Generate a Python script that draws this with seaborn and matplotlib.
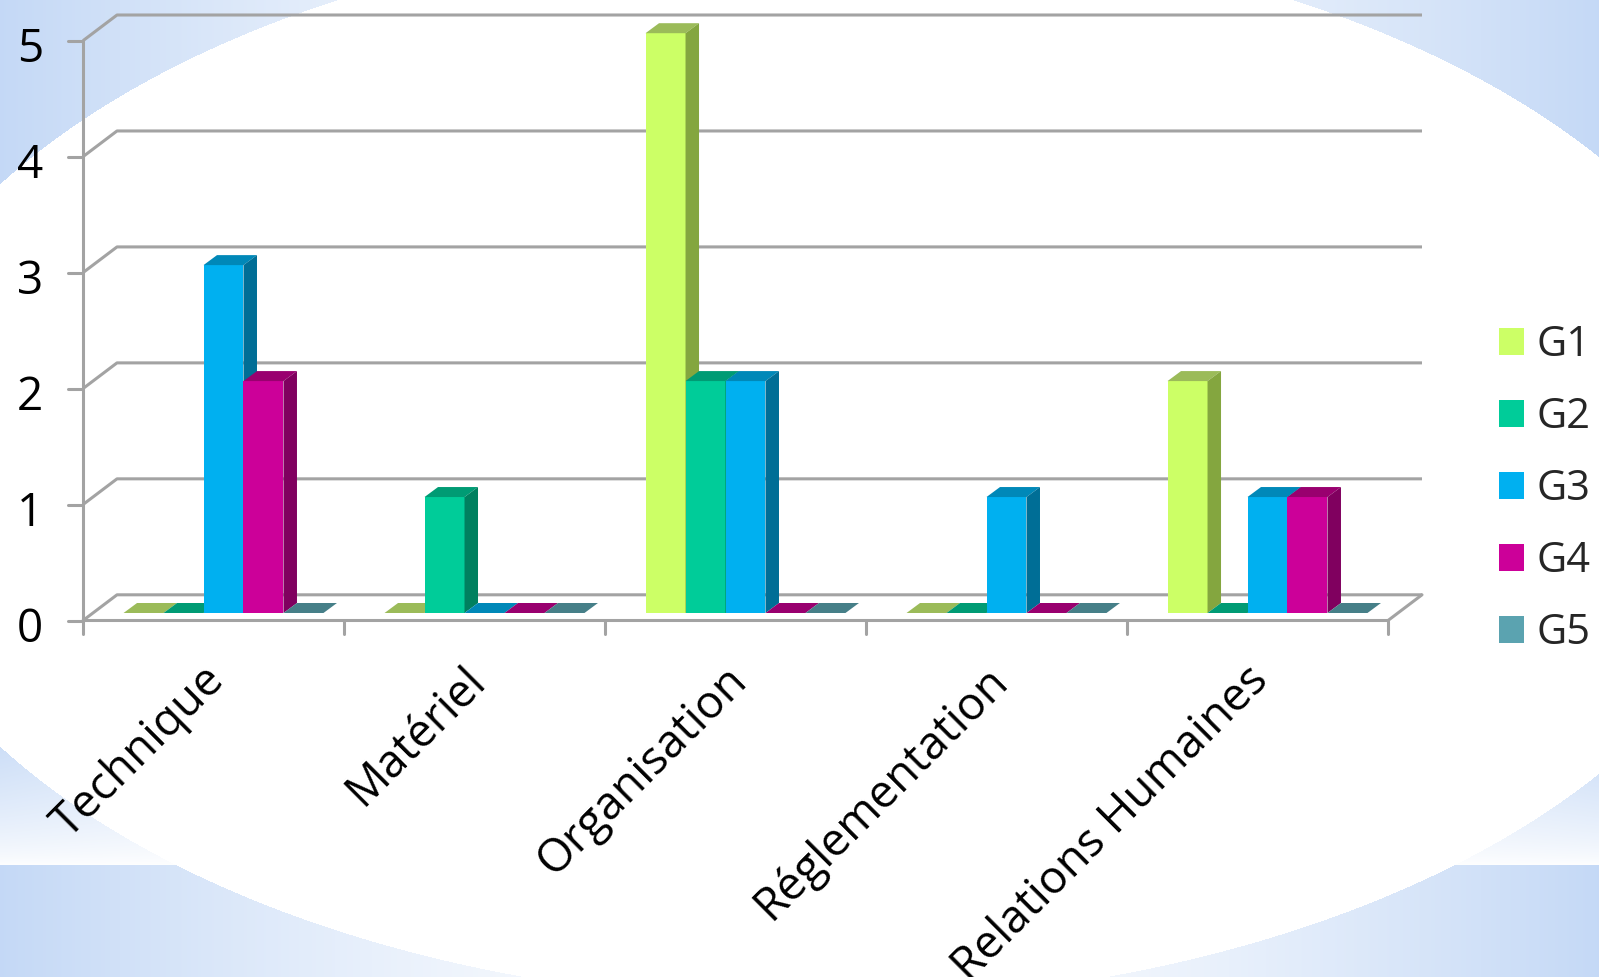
import numpy as np
import pandas as pd
import matplotlib
matplotlib.use("Agg")
import matplotlib.pyplot as plt
import matplotlib.transforms as mtransforms
from matplotlib.patches import Polygon, Patch
import seaborn as sns

# ---------------- data ----------------
categories = ["Technique", "Matériel", "Organisation", "Réglementation", "Relations Humaines"]
groups = ["G1", "G2", "G3", "G4", "G5"]
g1 = [0, 0, 5, 0, 2]
g2 = [0, 1, 2, 0, 0]
g3 = [3, 0, 2, 1, 1]
g4 = [2, 0, 0, 0, 1]
g5 = [0, 0, 0, 0, 0]
yticks = [0, 1, 2, 3, 4, 5]

front_colors = ["#CCFF66", "#00CC99", "#00B0F0", "#CC0099", "#5BA3B0"]
top_colors = ["#9BBB59", "#009B74", "#0088B8", "#99006F", "#467F88"]
side_colors = ["#84A63F", "#00805F", "#006E96", "#80005F", "#3A6B73"]

rows = []
for g, vals in zip(groups, [g1, g2, g3, g4, g5]):
    for c, v in zip(categories, vals):
        rows.append({"categorie": c, "groupe": g, "valeur": v})
df = pd.DataFrame(rows)

sns.set_theme(style="white")
plt.rcParams["font.family"] = ["Open Sans", "DejaVu Sans"]
plt.rcParams["font.weight"] = "medium"

W, H = 1599, 977
fig = plt.figure(figsize=(W / 100, H / 100), dpi=100)

# ---------------- background ----------------
bg = fig.add_axes([0, 0, 1, 1])
bg.set_axis_off()
yy, xx = np.mgrid[0:H, 0:W].astype(float)
blue = np.array([0.77, 0.85, 0.965])
hx = np.clip(np.abs(xx - 800) / 800, 0, 1) ** 1.5
vy = np.clip((865 - yy) / 150, 0, 1) ** 0.7
t = np.where(yy >= 865, hx, hx * vy)
inside = ((xx - 815) / 957) ** 2 + ((yy - 465) / 537) ** 2 <= 1
t = np.where(inside, 0, t)
img = 1 - t[..., None] * (1 - blue[None, None, :])
bg.imshow(img, aspect="auto", interpolation="bilinear")
bg.set_zorder(0)

# ---------------- main axes (bar front plane) ----------------
ax = fig.add_axes([93 / W, 364 / H, 1305 / W, (613 - 33.2) / H])
ax.set_zorder(1)
ax.patch.set_alpha(0)

sns.barplot(data=df, x="categorie", y="valeur", hue="groupe", order=categories,
            hue_order=groups, palette=front_colors, width=0.766, saturation=1,
            errorbar=None, linewidth=0, legend=False, ax=ax)
ax.set_xlim(-0.5, 4.5)
ax.set_ylim(0, 5)
for s in ax.spines.values():
    s.set_visible(False)
ax.set_xlabel("")
ax.set_ylabel("")

ux = 261.0   # px per category
uy = 115.96  # px per unit
ddx, ddy = 13.5 / ux, 10 / uy            # bar depth
fdx, fdy = -10 / ux, -7.5 / uy           # front plane offset
bdx, bdy = 24 / ux, 18.2 / uy            # back wall offset

# 3D faces derived from seaborn's bars
for i, cont in enumerate(ax.containers):
    for bar in cont:
        x0, w, h = bar.get_x(), bar.get_width(), bar.get_height()
        z = 3 + i * 0.1
        bar.set_zorder(z)
        top = Polygon([(x0, h), (x0 + w, h), (x0 + w + ddx, h + ddy), (x0 + ddx, h + ddy)],
                      closed=True, facecolor=top_colors[i], edgecolor="none", zorder=z + 0.01,
                      clip_on=False)
        ax.add_patch(top)
        if h > 0:
            side = Polygon([(x0 + w, 0), (x0 + w + ddx, ddy), (x0 + w + ddx, h + ddy), (x0 + w, h)],
                           closed=True, facecolor=side_colors[i], edgecolor="none", zorder=z + 0.01,
                           clip_on=False)
            ax.add_patch(side)

gcol = "#A3A3A3"
glw = 2.2
xl, xr = -0.5, 4.5
# back wall grid lines with left diagonals
for v in yticks:
    ax.plot([xl + fdx, xl + bdx, xr + bdx], [v + fdy, v + bdy, v + bdy], color=gcol, lw=glw,
            clip_on=False, zorder=1, solid_capstyle="butt")
    ax.plot([xl + fdx - 15 / ux, xl + fdx], [v + fdy, v + fdy], color=gcol, lw=glw,
            clip_on=False, zorder=1)
# front y axis
ax.plot([xl + fdx, xl + fdx], [fdy, 5 + fdy], color=gcol, lw=glw, clip_on=False, zorder=1)
# floor front edge and right diagonal
ax.plot([xl + fdx, xr + fdx, xr + bdx], [fdy, fdy, bdy], color=gcol, lw=glw, clip_on=False, zorder=1)
# category ticks
for k in range(len(categories) + 1):
    ax.plot([xl + k + fdx, xl + k + fdx], [fdy, fdy - 13 / uy], color=gcol, lw=glw,
            clip_on=False, zorder=1)

# ticks and labels
ax.set_yticks(yticks)
ax.set_yticklabels([str(v) for v in yticks])
ax.tick_params(axis="y", length=0, pad=36, labelsize=33, labelcolor="black")
off_y = mtransforms.ScaledTranslation(0, -0.11, fig.dpi_scale_trans)
for lab in ax.get_yticklabels():
    lab.set_transform(lab.get_transform() + off_y)

ax.set_xticks(range(len(categories)))
ax.set_xticklabels(categories, rotation=45, ha="right", rotation_mode="anchor")
ax.tick_params(axis="x", length=0, pad=32, labelsize=33, labelcolor="black")
off_x = mtransforms.ScaledTranslation(-0.22, 0, fig.dpi_scale_trans)
for lab in ax.get_xticklabels():
    lab.set_transform(lab.get_transform() + off_x)

# legend
handles = [Patch(facecolor=c, edgecolor="none") for c in front_colors]
fig.legend(handles, groups, loc="center left", bbox_to_anchor=(1499 / W, (977 - 489) / H),
           frameon=False, fontsize=30, handlelength=0.6, handleheight=0.6,
           handletextpad=0.3, labelspacing=0.72, borderpad=0, borderaxespad=0)

fig.savefig("out.png", dpi=100)
